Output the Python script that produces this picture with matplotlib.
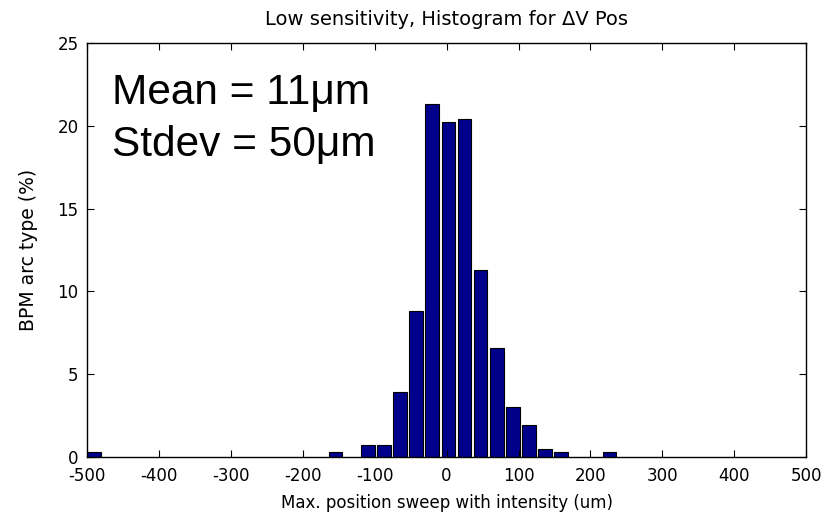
import matplotlib.pyplot as plt

plt.rcParams['font.family'] = ['DejaVu Sans']
plt.rcParams['axes.unicode_minus'] = False

# bin centres (um) and bar heights (%)
centres = [-490.3, -154.3, -109.5, -87.1, -64.7, -42.3, -19.9, 2.5, 24.9,
           47.3, 69.7, 92.1, 114.5, 136.9, 159.3, 226.5]
percent = [0.3, 0.3, 0.7, 0.7, 3.9, 8.8, 21.35, 20.25, 20.4,
           11.3, 6.6, 3.0, 1.9, 0.5, 0.3, 0.3]
xticks = list(range(-500, 501, 100))
yticks = [0, 5, 10, 15, 20, 25]

fig = plt.figure(figsize=(8.27, 5.27), dpi=100)
ax = fig.add_axes([0.105, 0.133, 0.87, 0.785])

ax.bar(centres, percent, width=19, color='#00008a', edgecolor='black', linewidth=0.8)

ax.set_xlim(-500, 500)
ax.set_ylim(0, 25)
ax.set_xticks(xticks)
ax.set_yticks(yticks)
ax.tick_params(direction='in', top=True, right=True, labelsize=12, length=5, width=0.8)
ax.tick_params(axis='x', pad=7)
ax.tick_params(axis='y', pad=6)
for s in ax.spines.values():
    s.set_linewidth(1.0)

ax.set_title('Low sensitivity, Histogram for \u0394V Pos', fontsize=14, pad=13)
ax.set_xlabel('Max. position sweep with intensity (um)', fontsize=12, labelpad=7)
ax.set_ylabel('BPM arc type (%)', fontsize=13.5, labelpad=14)

big = ['Liberation Sans', 'DejaVu Sans']
fig.text(0.135, 0.803, 'Mean = 11\u03bcm', fontsize=30.5, family=big)
fig.text(0.135, 0.704, 'Stdev = 50\u03bcm', fontsize=30.5, family=big)

plt.savefig('out.png', dpi=100)
